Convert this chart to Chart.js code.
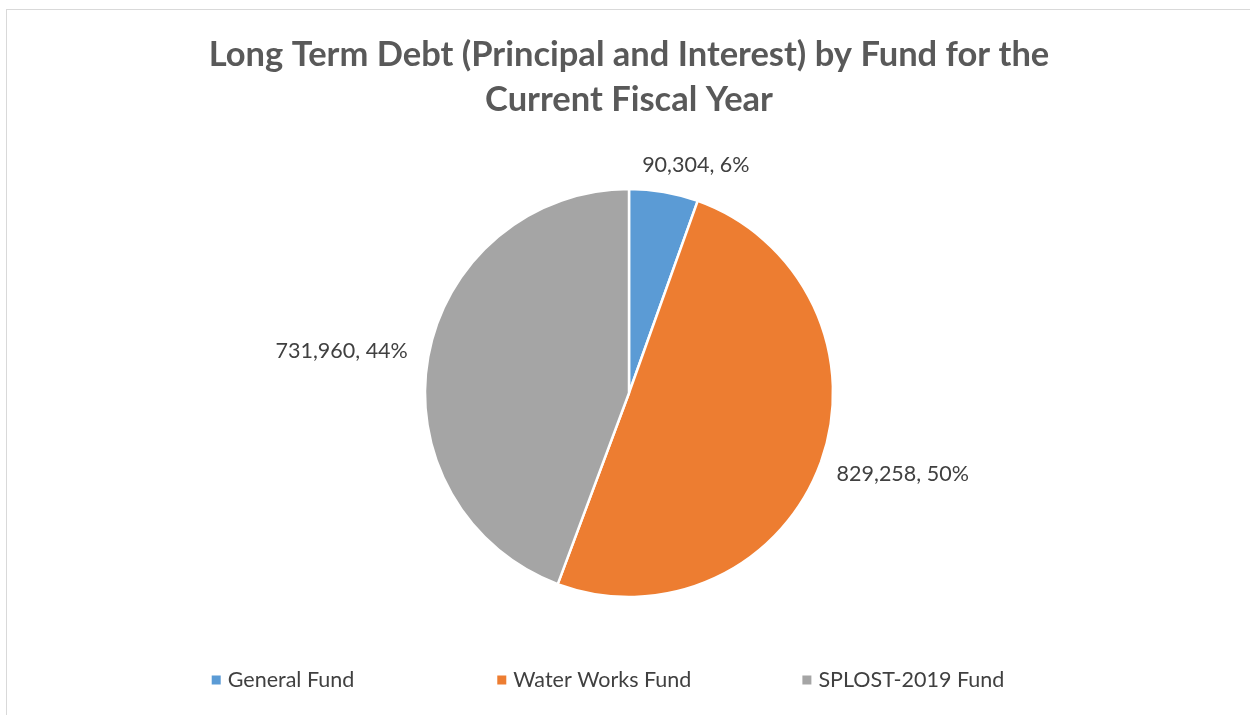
<!DOCTYPE html>
<html>
<head>
<meta charset="utf-8">
<title>Long Term Debt by Fund</title>
<script src="https://cdn.jsdelivr.net/npm/chart.js@4/dist/chart.umd.min.js"></script>
<style>
  html, body { margin:0; padding:0; background:#fff; }
  .wrap { position:relative; width:1250px; height:715px; overflow:hidden; }
  .frame { position:absolute; left:6px; top:9px; right:-2px; bottom:-2px; border-left:1px solid #d9d9d9; border-top:1px solid #d9d9d9; pointer-events:none; }
  canvas { position:absolute; left:0; top:0; }
</style>
</head>
<body>
<div class="wrap">
  <canvas id="debtPie" width="1250" height="715"></canvas>
  <div class="frame"></div>
</div>
<script>
// fund names, amounts and slice colours
const funds = ['General Fund', 'Water Works Fund', 'SPLOST-2019 Fund'];
const debtAmounts = [90304, 829258, 731960];
const fundColors = ['#5B9BD5', '#ED7D31', '#A5A5A5'];
const titleLines = ['Long Term Debt (Principal and Interest) by Fund for the', 'Current Fiscal Year'];

const FONT = 'Lato, "Open Sans", sans-serif';
const TEXT = '#404040';

// whole percentages that still add up to 100 (largest remainder)
function wholePercents(values){
  const total = values.reduce((a,b)=>a+b,0);
  const raw = values.map(v => v / total * 100);
  const out = raw.map(Math.floor);
  let left = 100 - out.reduce((a,b)=>a+b,0);
  raw.map((r,i)=>[r - out[i], i]).sort((a,b)=>b[0]-a[0]).forEach(([,i])=>{
    if(left > 0){ out[i]++; left--; }
  });
  return out;
}

// "value, pct%" labels placed just outside each slice
const outsideLabels = {
  id: 'outsideLabels',
  afterDatasetsDraw(chart){
    const ctx = chart.ctx;
    const meta = chart.getDatasetMeta(0);
    const data = chart.data.datasets[0].data;
    const pcts = wholePercents(data);
    ctx.save();
    ctx.font = '21.5px ' + FONT;
    ctx.fillStyle = TEXT;
    ctx.textBaseline = 'middle';
    ctx.textAlign = 'center';
    meta.data.forEach((arc, i)=>{
      const mid = (arc.startAngle + arc.endAngle) / 2;
      const dx = Math.cos(mid), dy = Math.sin(mid);
      const r = arc.outerRadius + 22 - 6 * Math.abs(dy) * Math.abs(dy);
      const px = arc.x + dx * r, py = arc.y + dy * r;
      const txt = data[i].toLocaleString('en-US') + ', ' + pcts[i] + '%';
      const w = ctx.measureText(txt).width, h = 22;
      const cx = px + dx * w / 2 + (Math.abs(dy) > 0.9 ? 20 : 0);
      const cy = py + dy * h / 2;
      ctx.fillText(txt, cx, cy);
    });
    ctx.restore();
  }
};

// single-row legend along the bottom
const bottomLegend = {
  id: 'bottomLegend',
  afterDraw(chart){
    const ctx = chart.ctx;
    const labels = chart.data.labels;
    const colors = chart.data.datasets[0].backgroundColor;
    const box = 9, gapText = 7, gaps = [143, 111], y = 680;
    ctx.save();
    ctx.font = '21.5px ' + FONT;
    const widths = labels.map(l => box + gapText + ctx.measureText(l).width);
    const total = widths.reduce((a,b)=>a+b,0) + gaps.reduce((a,b)=>a+b,0);
    let x = (chart.width - total) / 2 - 17;
    ctx.textBaseline = 'middle';
    ctx.textAlign = 'left';
    labels.forEach((l, i)=>{
      ctx.fillStyle = colors[i];
      ctx.fillRect(x, y - box/2, box, box);
      ctx.fillStyle = TEXT;
      ctx.fillText(l, x + box + gapText, y);
      x += widths[i] + (gaps[i] || 0);
    });
    ctx.restore();
  }
};

new Chart(document.getElementById('debtPie'), {
  type: 'pie',
  data: {
    labels: funds,
    datasets: [{
      data: debtAmounts,
      backgroundColor: fundColors,
      borderColor: '#ffffff',
      borderWidth: 2.5,
      hoverOffset: 0
    }]
  },
  options: {
    responsive: false,
    animation: false,
    radius: 204,
    layout: { padding: { left: 8, right: 0, top: 0, bottom: 118 } },
    plugins: {
      legend: { display: false },
      tooltip: { enabled: false },
      title: {
        display: true,
        text: titleLines,
        color: '#595959',
        font: { family: FONT, size: 34.5, weight: 'bold', lineHeight: '45px' },
        padding: { top: 32, bottom: 67 }
      }
    }
  },
  plugins: [outsideLabels, bottomLegend]
});
</script>
</body>
</html>
